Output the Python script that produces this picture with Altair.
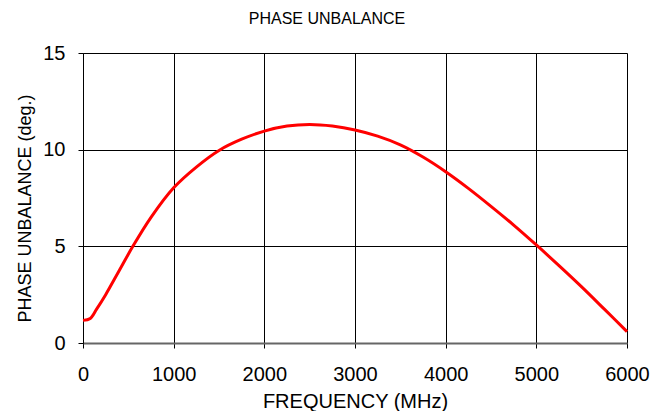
import altair as alt
import pandas as pd

freq = [0, 80, 150, 250, 400, 550, 750, 1000, 1250, 1500, 1750, 2000, 2250, 2500,
        2750, 3000, 3250, 3500, 3750, 4000, 4250, 4500, 4750, 5000, 5250, 5500, 5750, 6000]
unbalance = [1.17, 1.27, 1.75, 2.5, 3.75, 5.0, 6.5, 8.03, 9.1, 9.96, 10.54, 10.96, 11.22, 11.3,
             11.22, 11.02, 10.7, 10.25, 9.62, 8.86, 8.0, 7.07, 6.1, 5.07, 4.0, 2.9, 1.75, 0.59]

x_ticks = [0, 1000, 2000, 3000, 4000, 5000, 6000]
y_ticks = [0, 5, 10, 15]

df = pd.DataFrame({"freq": freq, "val": unbalance})

FONT = "Liberation Sans"

chart = alt.Chart(df).mark_line(color="#FF0000", strokeWidth=3, interpolate="catmull-rom").encode(
    x=alt.X("freq:Q",
            scale=alt.Scale(domain=[0, 6000], nice=False),
            axis=alt.Axis(values=x_ticks, title="FREQUENCY (MHz)", format="d",
                          grid=True, gridColor="#000000", gridWidth=1, gridOpacity=1,
                          domainColor="#666666", domainWidth=2,
                          tickColor="#000000", tickSize=5, tickWidth=1,
                          labelFont=FONT, labelFontSize=20, labelColor="#000000", labelPadding=16,
                          labelFlush=False,
                          titleFont=FONT, titleFontSize=20, titleFontWeight="normal", titleColor="#000000",
                          titleBaseline="alphabetic", titleY=64, titleX=272, titleAlign="center")),
    y=alt.Y("val:Q",
            scale=alt.Scale(domain=[0, 15], nice=False),
            axis=alt.Axis(values=y_ticks, title="PHASE UNBALANCE (deg.)",
                          grid=True, gridColor="#000000", gridWidth=1, gridOpacity=1,
                          domainColor="#000000", domainWidth=1,
                          tickColor="#000000", tickSize=5, tickWidth=1,
                          labelFont=FONT, labelFontSize=20, labelColor="#000000", labelPadding=13,
                          labelFlush=False,
                          titleFont=FONT, titleFontSize=18, titleFontWeight="normal", titleColor="#000000",
                          titleAngle=-90, titleBaseline="alphabetic", titleX=-53, titleY=155,
                          titleAlign="center")),
).properties(
    width=544,
    height=290,
    title=alt.TitleParams("PHASE UNBALANCE", font=FONT, fontSize=16, fontWeight="normal",
                          color="#000000", anchor="middle", frame="group", dx=-28, offset=3,
                          baseline="alphabetic"),
    autosize=alt.AutoSizeParams(type="none"),
    padding={"left": 75, "top": 45, "right": 33, "bottom": 68},
).configure_view(
    stroke="#808080", strokeWidth=2
).configure(background="#FFFFFF")

chart.save("out.html", embed_options={"renderer": "svg", "actions": False})
